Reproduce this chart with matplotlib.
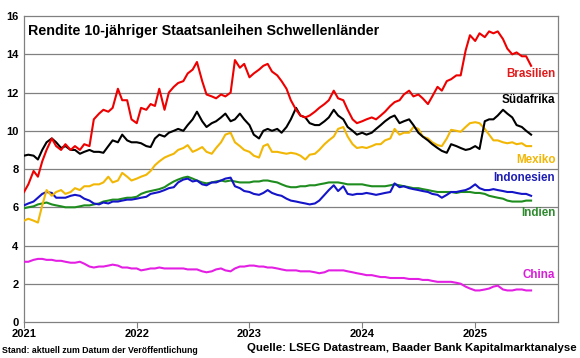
import numpy as np
import pandas as pd
import matplotlib
matplotlib.use("Agg")
import matplotlib.pyplot as plt
import matplotlib.dates as mdates

plt.rcParams['font.family'] = ['Liberation Sans', 'DejaVu Sans']

# semi-monthly observations, 1 Jan 2021 .. 1 Jul 2025
dates = pd.date_range("2021-01-01", periods=109, freq="SMS")

brasilien = [
    6.8, 7.2, 7.9, 7.6, 8.4, 9.0, 9.6, 9.2, 9.0, 9.3, 9.0, 9.2,
    9.0, 9.3, 9.2, 10.6, 10.9, 11.1, 11.0, 11.2, 12.2, 11.6, 11.6, 10.6,
    10.4, 11.2, 11.1, 11.4, 11.3, 12.2, 11.1, 12.0, 12.3, 12.5, 12.6, 13.0,
    13.2, 13.6, 12.6, 11.9, 11.8, 11.7, 11.9, 11.8, 12.0, 13.7, 13.3, 13.5,
    12.8, 13.0, 13.2, 13.4, 13.5, 13.1, 12.9, 12.6, 12.2, 11.6, 11.1, 10.8,
    10.7, 10.8, 11.0, 11.2, 11.4, 11.6, 12.1, 11.7, 11.6, 11.1, 10.6, 10.4,
    10.5, 10.6, 10.7, 10.6, 10.8, 11.0, 11.3, 11.5, 11.6, 11.9, 12.1, 11.8,
    11.9, 11.7, 11.4, 11.8, 12.3, 12.1, 12.6, 12.7, 12.9, 12.9, 14.2, 15.0,
    14.7, 15.1, 14.9, 15.2, 15.1, 15.2, 14.8, 14.3, 14.0, 14.1, 13.9, 13.9,
    13.4,
]
suedafrika = [
    8.7, 8.75, 8.7, 8.5, 9.0, 9.4, 9.6, 9.4, 9.1, 9.2, 9.0, 9.0,
    8.8, 8.9, 9.0, 8.9, 8.9, 8.85, 9.2, 9.5, 9.4, 9.8, 9.5, 9.4,
    9.4, 9.35, 9.2, 9.15, 9.6, 9.8, 9.7, 9.9, 10.0, 10.1, 10.0, 10.3,
    10.6, 11.0, 10.5, 10.2, 10.4, 10.5, 10.7, 10.9, 10.5, 10.6, 10.9, 10.6,
    10.3, 9.8, 9.6, 10.0, 10.1, 10.0, 10.1, 9.9, 10.2, 10.6, 11.2, 10.8,
    10.7, 10.4, 10.3, 10.3, 10.5, 10.7, 11.1, 10.8, 10.6, 10.2, 10.0, 9.8,
    9.9, 9.8, 9.9, 10.1, 10.3, 10.5, 10.7, 10.8, 10.4, 10.5, 10.6, 10.3,
    9.9, 9.7, 9.5, 9.3, 9.1, 8.95, 8.85, 9.3, 9.2, 9.1, 9.0, 9.05,
    9.2, 9.05, 10.5, 10.6, 10.6, 10.8, 11.1, 10.9, 10.7, 10.3, 10.2, 10.0,
    9.8,
]
mexiko = [
    5.3, 5.4, 5.3, 5.2, 6.1, 6.9, 6.6, 6.8, 6.9, 6.7, 6.8, 7.0,
    6.9, 7.1, 7.1, 7.2, 7.2, 7.3, 7.6, 7.3, 7.4, 7.8, 7.6, 7.4,
    7.5, 7.6, 7.7, 7.9, 8.2, 8.4, 8.6, 8.7, 8.8, 9.0, 9.1, 9.25,
    8.9, 9.0, 9.15, 8.9, 8.8, 9.1, 9.4, 9.8, 9.9, 9.4, 9.2, 9.0,
    8.9, 8.7, 8.6, 9.2, 9.3, 8.9, 8.9, 8.85, 8.8, 8.85, 8.8, 8.7,
    8.5, 8.75, 8.8, 9.0, 9.3, 9.5, 9.7, 10.1, 10.2, 9.7, 9.3, 9.1,
    9.15, 9.1, 9.2, 9.3, 9.3, 9.5, 9.6, 10.1, 9.8, 9.9, 9.9, 10.2,
    10.1, 9.7, 9.6, 9.4, 9.25, 9.2, 9.6, 10.05, 10.0, 9.95, 10.2, 10.4,
    10.45, 10.4, 10.1, 9.8, 9.5, 9.5, 9.4, 9.35, 9.4, 9.3, 9.35, 9.2,
    9.2,
]
indonesien = [
    6.1, 6.2, 6.3, 6.5, 6.7, 6.8, 6.75, 6.5, 6.5, 6.5, 6.6, 6.65,
    6.6, 6.45, 6.35, 6.2, 6.15, 6.25, 6.2, 6.3, 6.3, 6.35, 6.4, 6.4,
    6.45, 6.5, 6.55, 6.7, 6.75, 6.8, 6.9, 7.0, 7.05, 7.3, 7.45, 7.5,
    7.35, 7.4, 7.2, 7.15, 7.3, 7.3, 7.4, 7.5, 7.55, 7.1, 7.0, 6.85,
    6.8, 6.7, 6.65, 6.75, 6.9, 6.75, 6.65, 6.6, 6.45, 6.35, 6.3, 6.25,
    6.2, 6.15, 6.2, 6.35, 6.65, 6.9, 7.15, 6.85, 7.1, 6.7, 6.65, 6.7,
    6.7, 6.75, 6.7, 6.65, 6.7, 6.75, 6.8, 7.25, 7.05, 7.1, 7.0, 6.95,
    6.9, 6.85, 6.8, 6.7, 6.65, 6.5, 6.65, 6.8, 6.8, 6.85, 6.9, 7.0,
    7.2, 7.0, 6.9, 6.9, 6.95, 6.9, 6.85, 6.8, 6.8, 6.75, 6.7, 6.7,
    6.6,
]
indien = [
    5.95, 6.0, 6.05, 6.15, 6.2, 6.25, 6.15, 6.1, 6.05, 6.0, 6.0, 6.0,
    6.05, 6.1, 6.1, 6.15, 6.2, 6.3, 6.35, 6.4, 6.4, 6.45, 6.5, 6.5,
    6.55, 6.7, 6.8, 6.85, 6.9, 6.95, 7.05, 7.2, 7.35, 7.45, 7.55, 7.6,
    7.5, 7.4, 7.3, 7.25, 7.3, 7.35, 7.4, 7.35, 7.4, 7.35, 7.3, 7.3,
    7.3, 7.35, 7.35, 7.4, 7.4, 7.35, 7.3, 7.2, 7.1, 7.05, 7.05, 7.1,
    7.1, 7.15, 7.15, 7.2, 7.25, 7.3, 7.3, 7.3, 7.25, 7.2, 7.2, 7.2,
    7.2, 7.15, 7.1, 7.1, 7.1, 7.1, 7.15, 7.2, 7.15, 7.1, 7.05, 7.0,
    7.0, 6.95, 6.9, 6.85, 6.8, 6.8, 6.8, 6.8, 6.75, 6.8, 6.8, 6.8,
    6.75, 6.75, 6.7, 6.6, 6.55, 6.5, 6.45, 6.35, 6.3, 6.3, 6.3, 6.35,
    6.35,
]
china = [
    3.15, 3.15, 3.25, 3.3, 3.3, 3.25, 3.25, 3.2, 3.2, 3.15, 3.1, 3.1,
    3.15, 3.05, 2.9, 2.85, 2.9, 2.9, 2.95, 3.0, 2.95, 2.85, 2.85, 2.8,
    2.8, 2.7, 2.75, 2.8, 2.8, 2.85, 2.8, 2.8, 2.8, 2.8, 2.8, 2.75,
    2.75, 2.75, 2.65, 2.6, 2.65, 2.75, 2.8, 2.7, 2.65, 2.8, 2.9, 2.9,
    2.95, 2.95, 2.9, 2.9, 2.85, 2.85, 2.8, 2.75, 2.7, 2.7, 2.7, 2.65,
    2.65, 2.65, 2.6, 2.55, 2.6, 2.7, 2.7, 2.7, 2.7, 2.65, 2.6, 2.55,
    2.5, 2.45, 2.45, 2.4, 2.35, 2.35, 2.3, 2.3, 2.3, 2.3, 2.25, 2.25,
    2.25, 2.2, 2.2, 2.15, 2.1, 2.1, 2.1, 2.1, 2.05, 2.0, 1.85, 1.75,
    1.65, 1.65, 1.7, 1.75, 1.85, 1.9, 1.7, 1.65, 1.65, 1.7, 1.7, 1.65,
    1.65,
]

series = [
    ("China", china, "#E41FE4", 2.45),
    ("Indien", indien, "#1E8C1E", 5.7),
    ("Indonesien", indonesien, "#1414C8", 7.55),
    ("Mexiko", mexiko, "#F2B705", 8.45),
    ("Südafrika", suedafrika, "#000000", 11.6),
    ("Brasilien", brasilien, "#EE0000", 12.95),
]
label_colors = {"China": "#D81ED8", "Indien": "#2E8B2E", "Indonesien": "#1E1EB4",
                "Mexiko": "#F2B705", "Südafrika": "#000000", "Brasilien": "#E01B1B"}

fig = plt.figure(figsize=(5.8, 3.58), dpi=100)
ax = fig.add_axes([0.0414, 0.1006, 0.9206, 0.8544])

for y in range(2, 16, 2):
    ax.axhline(y, color="#808080", lw=0.9, zorder=1)

for name, vals, col, ylab in series:
    ax.plot(dates, vals, color=col, lw=1.5, zorder=3)
    ax.text(0.995, ylab, name, transform=ax.get_yaxis_transform(), ha="right",
            va="center", fontsize=8.4, fontweight="bold", color=label_colors[name])

ax.set_xlim(pd.Timestamp("2021-01-01"), pd.Timestamp("2025-09-26"))
ax.set_ylim(0, 16)
ax.set_yticks(range(0, 17, 2))
ax.xaxis.set_major_locator(mdates.YearLocator())
ax.xaxis.set_major_formatter(mdates.DateFormatter("%Y"))
ax.tick_params(axis="y", length=0, pad=4, labelsize=8)
ax.tick_params(axis="x", length=4, width=0.8, color="#808080", pad=1, labelsize=8)
for lab in ax.get_xticklabels() + ax.get_yticklabels():
    lab.set_fontweight("bold")
for sp in ax.spines.values():
    sp.set_color("#808080")
    sp.set_linewidth(0.9)

ax.text(0.008, 0.975, "Rendite 10-jähriger Staatsanleihen Schwellenländer",
        transform=ax.transAxes, ha="left", va="top", fontsize=10.3, fontweight="bold")

fig.text(0.004, 0.022, "Stand: aktuell zum Datum der Veröffentlichung",
         ha="left", va="center", fontsize=6.3, fontweight="bold")
fig.text(0.995, 0.028, "Quelle: LSEG Datastream, Baader Bank Kapitalmarktanalyse",
         ha="right", va="center", fontsize=8.2, fontweight="bold")

fig.savefig("out.png", dpi=100)
